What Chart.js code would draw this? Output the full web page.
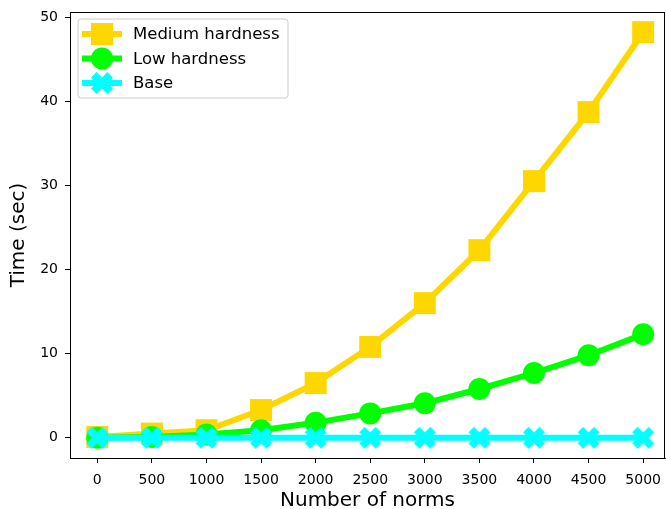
<!DOCTYPE html>
<html>
<head>
<meta charset="utf-8">
<script src="https://cdn.jsdelivr.net/npm/chart.js@4.4.0/dist/chart.umd.min.js"></script>
<style>
html,body{margin:0;padding:0;background:#fff;}
#wrap{width:666px;height:509px;position:relative;}
</style>
</head>
<body>
<div id="wrap"><canvas id="c" width="666" height="509"></canvas></div>
<script>
const norms = [0, 500, 1000, 1500, 2000, 2500, 3000, 3500, 4000, 4500, 5000];
const mediumHardness = [0.1, 0.5, 0.9, 3.3, 6.5, 10.8, 16.0, 22.3, 30.5, 38.7, 48.2];
const lowHardness = [0.0, 0.1, 0.4, 0.9, 1.8, 2.9, 4.1, 5.8, 7.7, 9.8, 12.3];
const baseTimes = [0.0, 0.0, 0.0, 0.0, 0.0, 0.0, 0.0, 0.0, 0.0, 0.0, 0.0];
const xTicks = [0, 500, 1000, 1500, 2000, 2500, 3000, 3500, 4000, 4500, 5000];
const yTicks = [0, 10, 20, 30, 40, 50];
const seriesNames = ['Medium hardness', 'Low hardness', 'Base'];

const GOLD = '#FFD700', LIME = '#00FF00', CYAN = '#00FFFF';
const MS = 22, LW = 6;

function xPath(ctx, cx, cy, s) {
  const pts = [[-1,-2],[0,-1],[1,-2],[2,-1],[1,0],[2,1],[1,2],[0,1],[-1,2],[-2,1],[-1,0],[-2,-1]];
  ctx.beginPath();
  pts.forEach((p, i) => {
    const x = cx + p[0] / 4 * s, y = cy + p[1] / 4 * s;
    if (i === 0) ctx.moveTo(x, y); else ctx.lineTo(x, y);
  });
  ctx.closePath();
}
function drawMarker(ctx, kind, cx, cy, color) {
  ctx.fillStyle = color;
  if (kind === 'rect') {
    ctx.fillRect(cx - MS / 2, cy - MS / 2, MS, MS);
  } else if (kind === 'circle') {
    ctx.beginPath(); ctx.arc(cx, cy, MS / 2, 0, Math.PI * 2); ctx.fill();
  } else {
    xPath(ctx, cx, cy, MS); ctx.fill();
  }
}
const xCanvas = document.createElement('canvas');
xCanvas.width = MS + 2; xCanvas.height = MS + 2;
drawMarker(xCanvas.getContext('2d'), 'x', (MS + 2) / 2, (MS + 2) / 2, CYAN);

const frameLegend = {
  id: 'frameLegend',
  afterDatasetsDraw(chart) {
    const ctx = chart.ctx, a = chart.chartArea;
    ctx.save();
    ctx.strokeStyle = '#000'; ctx.lineWidth = 1;
    ctx.strokeRect(a.left + 0.5, a.top + 0.5, a.right - a.left - 1, a.bottom - a.top);
    const lx = 78, ly = 19, lw = 210, lh = 79, r = 3;
    ctx.beginPath();
    ctx.moveTo(lx + r, ly); ctx.lineTo(lx + lw - r, ly); ctx.arcTo(lx + lw, ly, lx + lw, ly + r, r);
    ctx.lineTo(lx + lw, ly + lh - r); ctx.arcTo(lx + lw, ly + lh, lx + lw - r, ly + lh, r);
    ctx.lineTo(lx + r, ly + lh); ctx.arcTo(lx, ly + lh, lx, ly + lh - r, r);
    ctx.lineTo(lx, ly + r); ctx.arcTo(lx, ly, lx + r, ly, r); ctx.closePath();
    ctx.fillStyle = 'rgba(255,255,255,0.8)'; ctx.fill();
    ctx.strokeStyle = '#cccccc'; ctx.lineWidth = 1; ctx.stroke();
    const items = [[seriesNames[0], GOLD, 'rect'], [seriesNames[1], LIME, 'circle'], [seriesNames[2], CYAN, 'x']];
    ctx.font = '16.5px "DejaVu Sans"'; ctx.textBaseline = 'middle'; ctx.textAlign = 'left';
    items.forEach((it, i) => {
      const y = 34 + i * 24.5;
      ctx.strokeStyle = it[1]; ctx.lineWidth = LW;
      ctx.beginPath(); ctx.moveTo(82, y); ctx.lineTo(122, y); ctx.stroke();
      drawMarker(ctx, it[2], 102, y, it[1]);
      ctx.fillStyle = '#000';
      ctx.fillText(it[0], 133, y + 1);
    });
    ctx.restore();
  }
};

function mk(label, data, color, style, order) {
  return {
    label, data: norms.map((x, i) => ({x, y: data[i]})),
    borderColor: color, backgroundColor: color, borderWidth: LW,
    pointStyle: style, pointRadius: style === 'rect' ? MS / 2 * Math.SQRT2 : MS / 2,
    pointBorderWidth: 0, pointHoverRadius: MS / 2,
    fill: false, tension: 0, order
  };
}

new Chart(document.getElementById('c'), {
  type: 'line',
  data: {
    datasets: [
      mk(seriesNames[0], mediumHardness, GOLD, 'rect', 3),
      mk(seriesNames[1], lowHardness, LIME, 'circle', 2),
      mk(seriesNames[2], baseTimes, CYAN, xCanvas, 1)
    ]
  },
  options: {
    responsive: false, animation: false,
    layout: { autoPadding: false, padding: { left: 0, top: 12, right: 1, bottom: 0 } },
    plugins: { legend: { display: false }, tooltip: { enabled: false } },
    scales: {
      x: {
        type: 'linear', min: -250, max: 5200,
        afterBuildTicks: s => { s.ticks = xTicks.map(v => ({value: v})); },
        afterFit: s => { s.height = 51; s.paddingLeft = 0; s.paddingRight = 0; },
        grid: { drawOnChartArea: false, drawTicks: true, tickLength: 5, color: '#000', tickColor: '#000' },
        border: { display: true, color: '#000' },
        ticks: { color: '#000', font: { family: 'DejaVu Sans', size: 14 }, padding: 9, maxRotation: 0, autoSkip: false, callback: v => String(v) },
        title: { display: true, text: 'Number of norms', color: '#000', font: { family: 'DejaVu Sans', size: 20 }, padding: { top: 4, bottom: -4 } }
      },
      y: {
        type: 'linear', min: -2.4, max: 50.6,
        afterBuildTicks: s => { s.ticks = yTicks.map(v => ({value: v})); },
        afterFit: s => { s.width = 70; s.paddingTop = 0; s.paddingBottom = 0; },
        grid: { drawOnChartArea: false, drawTicks: true, tickLength: 5, color: '#000', tickColor: '#000' },
        border: { display: true, color: '#000' },
        ticks: { color: '#000', font: { family: 'DejaVu Sans', size: 14 }, padding: 7, callback: v => String(v) },
        title: { display: true, text: 'Time (sec)', color: '#000', font: { family: 'DejaVu Sans', size: 20 }, padding: { top: 7, bottom: 0 } }
      }
    }
  },
  plugins: [frameLegend]
});
</script>
</body>
</html>
